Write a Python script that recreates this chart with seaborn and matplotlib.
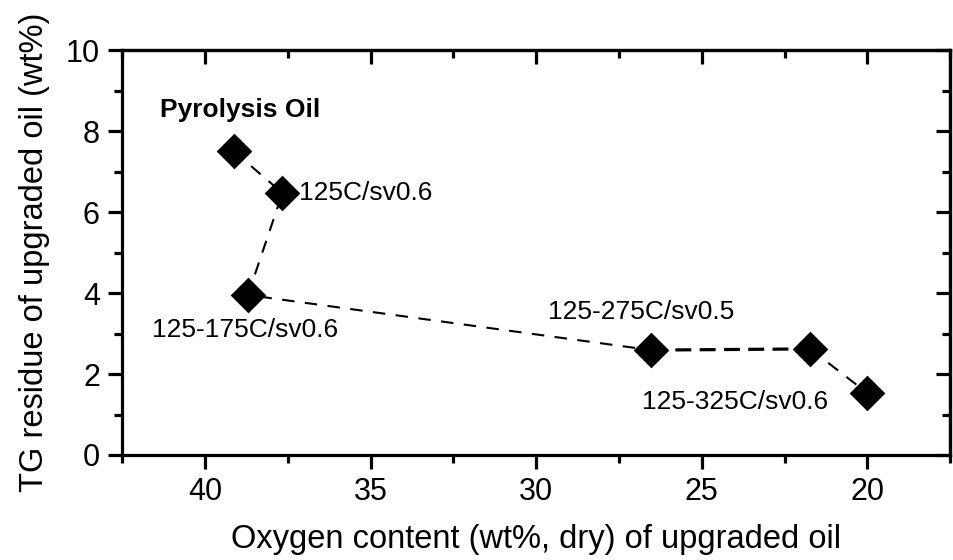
import matplotlib
matplotlib.use("Agg")
import matplotlib.pyplot as plt
from matplotlib.ticker import MultipleLocator
import numpy as np
import pandas as pd
import seaborn as sns

# Oxygen content (wt%, dry) and TG residue (wt%) of the feed and upgraded oils
labels = ["Pyrolysis Oil", "125C/sv0.6", "125-175C/sv0.6", "125-275C/sv0.5", "", "125-325C/sv0.6"]
oxygen = [39.13, 37.66, 38.70, 26.53, 21.73, 20.00]
residue = [7.50, 6.47, 3.95, 2.59, 2.62, 1.53]

df = pd.DataFrame({"oxygen": oxygen, "residue": residue, "label": labels})

sns.set_theme(style="ticks")
plt.rcParams["font.family"] = ["Liberation Sans", "DejaVu Sans"]
for key in ["text.color", "axes.labelcolor", "xtick.color", "ytick.color", "axes.edgecolor"]:
    plt.rcParams[key] = "black"

fig = plt.figure(figsize=(9.54, 5.60), dpi=100)
ax = fig.add_axes([0.128, 0.1875, 0.868, 0.7232])

# dashed connectors through the samples in processing order
def connect(part, lw, dashes):
    sns.lineplot(data=part, x="oxygen", y="residue", sort=False, estimator=None,
                 color="black", lw=lw, ax=ax, zorder=2)
    ax.lines[-1].set_dashes(dashes)

connect(df.iloc[0:4], 1.5, [6, 5])
connect(df.iloc[3:5], 2.3, [5, 2.6])
connect(df.iloc[4:6], 1.5, [6, 5])

sns.scatterplot(data=df, x="oxygen", y="residue", marker="D", s=330,
                color="black", edgecolor="black", linewidth=0, ax=ax, zorder=3)

ax.set_xlim(42.5, 17.5)
ax.set_ylim(0, 10)
ax.xaxis.set_major_locator(MultipleLocator(5))
ax.xaxis.set_minor_locator(MultipleLocator(2.5))
ax.yaxis.set_major_locator(MultipleLocator(2))
ax.yaxis.set_minor_locator(MultipleLocator(1))

for s in ax.spines.values():
    s.set_linewidth(2.3)
    s.set_color("black")
    s.set_visible(True)

ax.tick_params(axis="both", which="major", length=10, width=2.3, direction="out",
               labelsize=22, pad=6)
ax.tick_params(axis="both", which="minor", length=5.5, width=2.3, direction="out")

# top and right ticks point into the plot, without labels
top = ax.secondary_xaxis("top")
top.xaxis.set_major_locator(MultipleLocator(5))
top.xaxis.set_minor_locator(MultipleLocator(2.5))
top.tick_params(which="major", direction="in", length=10, width=2.3, labeltop=False)
top.tick_params(which="minor", direction="in", length=5.5, width=2.3)
right = ax.secondary_yaxis("right")
right.yaxis.set_major_locator(MultipleLocator(2))
right.yaxis.set_minor_locator(MultipleLocator(1))
right.tick_params(which="major", direction="in", length=10, width=2.3, labelright=False)
right.tick_params(which="minor", direction="in", length=5.5, width=2.3)
for sec in (top, right):
    for s in sec.spines.values():
        s.set_linewidth(2.3)

ax.set_xlabel("Oxygen content (wt%, dry) of upgraded oil", fontsize=23.5, labelpad=12)
ax.set_ylabel("TG residue of upgraded oil (wt%)", fontsize=23.5, labelpad=11)

ann = 19
ax.text(41.35, 8.52, labels[0], fontsize=ann, fontweight="bold", ha="left", va="center")
ax.text(37.15, 6.47, labels[1], fontsize=ann, ha="left", va="center")
ax.text(41.59, 3.09, labels[2], fontsize=ann, ha="left", va="center")
ax.text(29.64, 3.53, labels[3], fontsize=ann, ha="left", va="center")
ax.text(26.79, 1.31, labels[5], fontsize=ann, ha="left", va="center")

fig.savefig("out.png", dpi=100)
